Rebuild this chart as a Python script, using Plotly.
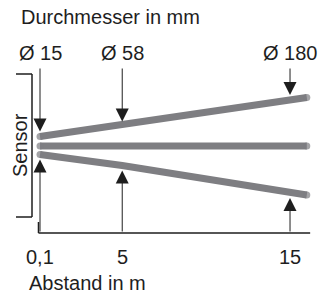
import plotly.graph_objects as go

# ---- data ----
distance_ticks = [0.1, 5, 15]            # Abstand in m
tick_labels = ["0,1", "5", "15"]
diameter_labels = ["Ø 15", "Ø 58", "Ø 180"]

beam_x = [0.1, 5, 16]                    # beam outline stations (m)
beam_upper = [9.5, 21, 48.5]             # schematic half-width, upper edge
beam_lower = [-8.5, -19.5, -49]          # schematic half-width, lower edge
beam_center = [0, 0, 0]

top_arrow_tips = [14.5, 24.5, 51]
bottom_arrow_tips = [-13.5, -24.5, -52]
arrow_top_start = 79
baseline_y = -87

GRAY = "#7e7e82"
INK = "#1e1e1e"
FONT = "Liberation Sans, Arial, sans-serif"
FS = 20

fig = go.Figure()
for ys in (beam_upper, beam_center, beam_lower):
    fig.add_trace(go.Scatter(x=beam_x, y=ys, mode="lines+markers",
                             line=dict(color=GRAY, width=7),
                             marker=dict(color=GRAY, size=[7, 0, 7],
                                         line=dict(width=0)),
                             hoverinfo="skip", showlegend=False))

# baseline (distance axis)
fig.add_shape(type="line", x0=0.01, x1=16.2, y0=baseline_y, y1=baseline_y,
              line=dict(color=INK, width=1.5))
fig.add_shape(type="line", x0=0.01, x1=0.01, y0=baseline_y, y1=baseline_y + 11,
              line=dict(color=INK, width=1.5))

for d, lab, tt, bt, tl in zip(distance_ticks, diameter_labels,
                              top_arrow_tips, bottom_arrow_tips, tick_labels):
    fig.add_annotation(x=d, y=tt, ax=d, ay=arrow_top_start, xref="x", yref="y",
                       axref="x", ayref="y", showarrow=True, arrowhead=2,
                       arrowsize=2.6, arrowwidth=1, arrowcolor=INK, text="")
    fig.add_annotation(x=d, y=bt, ax=d, ay=baseline_y, xref="x", yref="y",
                       axref="x", ayref="y", showarrow=True, arrowhead=2,
                       arrowsize=2.6, arrowwidth=1, arrowcolor=INK, text="")
    fig.add_annotation(x=d, y=93, xref="x", yref="y", text=lab, showarrow=False,
                       xanchor="center", yanchor="middle",
                       font=dict(family=FONT, size=FS, color=INK))
    fig.add_annotation(x=d, y=-111, xref="x", yref="y", text=tl, showarrow=False,
                       xanchor="center", yanchor="middle",
                       font=dict(family=FONT, size=FS, color=INK))

# titles
fig.add_annotation(x=19/320, y=1-17/297, xref="paper", yref="paper",
                   xanchor="left", yanchor="middle", text="Durchmesser in mm",
                   showarrow=False, font=dict(family=FONT, size=FS, color=INK))
fig.add_annotation(x=27/320, y=1-283/297, xref="paper", yref="paper",
                   xanchor="left", yanchor="middle", text="Abstand in m",
                   showarrow=False, font=dict(family=FONT, size=FS, color=INK))
fig.add_annotation(x=20/320, y=1-145/297, xref="paper", yref="paper",
                   xanchor="center", yanchor="middle",
                   text="Sensor", textangle=-90, showarrow=False,
                   font=dict(family=FONT, size=FS, color=INK))

# sensor bracket
bx = 32/320
bl = 16/320
bt_ = 1-74/297
bb = 1-217/297
for x0, y0, x1, y1 in [(bx, bt_, bx, bb), (bl, bt_, bx, bt_), (bl, bb, bx, bb)]:
    fig.add_shape(type="line", xref="paper", yref="paper", x0=x0, y0=y0,
                  x1=x1, y1=y1, line=dict(color=INK, width=1.5))

fig.update_layout(width=320, height=297, margin=dict(l=0, r=0, t=0, b=0),
                  plot_bgcolor="white", paper_bgcolor="white")
fig.update_xaxes(range=[-38.32/16.78, (320-38.32)/16.78], visible=False)
fig.update_yaxes(range=[-151, 146], visible=False)

fig.write_html("out.html", config={"displayModeBar": False},
               post_script="document.body.style.margin='0';")
